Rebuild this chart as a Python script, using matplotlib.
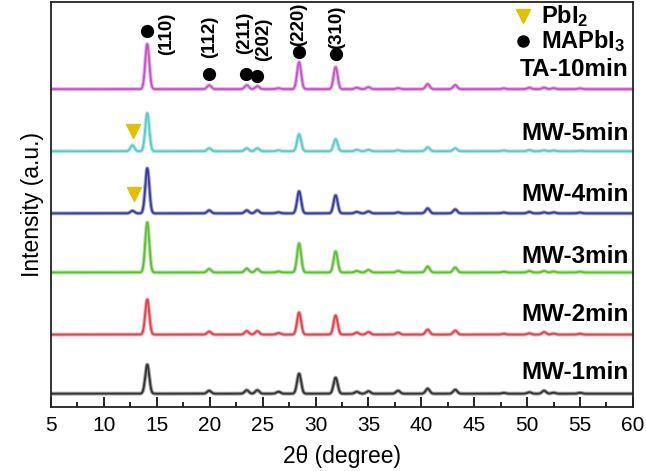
import numpy as np
import matplotlib
matplotlib.use("Agg")
import matplotlib.pyplot as plt

plt.rcParams['font.family'] = ['Liberation Sans', 'DejaVu Sans']
plt.rcParams['mathtext.fontset'] = 'custom'
plt.rcParams['mathtext.rm'] = 'Liberation Sans'
plt.rcParams['mathtext.bf'] = 'Liberation Sans:bold'

# ---- data ----
samples = ["MW-1min", "MW-2min", "MW-3min", "MW-4min", "MW-5min", "TA-10min"]
offsets = [0, 59, 121, 180, 242, 304]
colors = ["#333333", "#e0434c", "#5cbf34", "#363c9c", "#5ccacc", "#c454c4"]

peak_pos = [12.7, 14.1, 19.95, 23.5, 24.5, 26.5, 28.45, 31.9, 33.9, 35.0,
            37.8, 40.6, 43.2, 47.8, 50.2, 51.6, 52.5, 55.0]
heights = {
    "MW-1min":  [0, 29, 3, 3.5, 3.5, 2, 20, 16, 2, 2.5, 3, 5, 4, 0.8, 1.5, 3, 1, 1],
    "MW-2min":  [0, 35, 3, 3.5, 3.5, 1.5, 22, 19, 2, 2.5, 2, 5, 4, 0.8, 1.2, 2.5, 1, 0.8],
    "MW-3min":  [0, 50, 3.5, 4, 3.5, 1, 29, 21, 1.5, 2.5, 1.5, 6, 5, 0.8, 1.5, 1.5, 1, 0.8],
    "MW-4min":  [2.5, 45, 3, 3, 3, 1, 22, 18, 1.5, 2, 1, 5, 4, 0.8, 1.5, 1, 1, 0.8],
    "MW-5min":  [6, 38, 3, 3, 3, 1, 17, 12, 1.5, 1.5, 1, 4, 3, 0.8, 1.2, 1, 0.8, 0.5],
    "TA-10min": [0, 45, 4, 4, 3, 1, 27, 22, 1.5, 2, 1, 5, 4, 0.8, 1.5, 1.5, 1, 0.8],
}
peak_sigma = 0.19

# MAPbI3 reflections
hkl_labels = ["(110)", "(112)", "(211)", "(202)", "(220)", "(310)"]
hkl_pos = [14.1, 19.95, 23.45, 24.5, 28.45, 31.9]
hkl_dot_y = [362, 319, 319, 317, 341, 339]
hkl_text_x = [15.9, 19.95, 23.3, 25.1, 28.45, 31.95]
hkl_text_y = [359, 356, 360, 354, 369, 366]

# PbI2 markers
pbi2_x = [12.75, 12.8]
pbi2_y = [262, 199]

label_y = [21, 79, 137, 199, 260, 324]

xticks = [5, 10, 15, 20, 25, 30, 35, 40, 45, 50, 55, 60]

# ---- figure ----
fig = plt.figure(figsize=(6.46, 4.71), dpi=100)
ax = fig.add_axes([0.0789, 0.1365, 0.9009, 0.8593])

x = np.linspace(5, 60, 5500)
for name, off, col in zip(samples, offsets, colors):
    y = np.full_like(x, float(off))
    for p, h in zip(peak_pos, heights[name]):
        y = y + h * np.exp(-0.5 * ((x - p) / peak_sigma) ** 2)
    ax.plot(x, y, color=col, lw=2.8, alpha=0.45, solid_capstyle='butt')
    ax.plot(x, y, color=col, lw=1.3)

for name, ly in zip(samples, label_y):
    ax.text(59.6, ly, name, ha='right', va='center', fontsize=17.5,
            fontweight='bold', color='black')

ax.plot(hkl_pos, hkl_dot_y, 'o', color='black', ms=8.5, ls='none')
for t, tx, ty in zip(hkl_labels, hkl_text_x, hkl_text_y):
    ax.text(tx, ty, t, rotation=90, ha='center', va='center', fontsize=13.5,
            fontweight='bold')

ax.plot(pbi2_x, pbi2_y, 'v', color='#e0c000', ms=10, ls='none')

# legend-like annotations
ax.plot([49.65], [377], 'v', color='#e0c000', ms=10)
ax.text(51.3, 377, r'$\mathbf{PbI_2}$', ha='left', va='center', fontsize=17)
ax.plot([49.65], [352], 'o', color='black', ms=8)
ax.text(51.3, 352, r'$\mathbf{MAPbI_3}$', ha='left', va='center', fontsize=17)

ax.set_xlim(5, 60)
ax.set_ylim(-13, 391)
ax.set_xticks(xticks)
ax.set_xticks(np.arange(7.5, 60, 5), minor=True)
ax.set_yticks([])
ax.tick_params(axis='x', which='major', direction='in', length=7.5, width=1.2,
               labelsize=15, pad=7)
ax.tick_params(axis='x', which='minor', direction='in', length=3.8, width=1.2)
for s in ax.spines.values():
    s.set_linewidth(1.3)
    s.set_color('#222222')

ax.set_xlabel('2θ (degree)', fontsize=16.5, labelpad=7)
ax.set_ylabel('Intensity (a.u.)', fontsize=16.5, labelpad=5)

fig.savefig('out.png', dpi=100)
